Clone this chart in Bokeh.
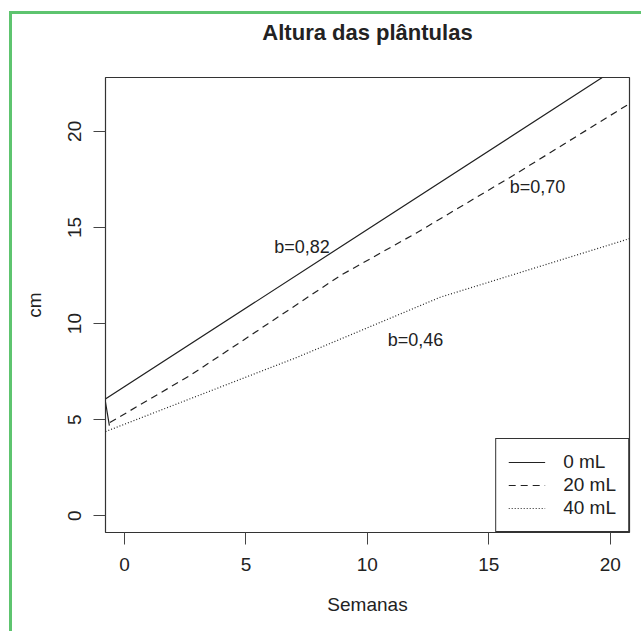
from bokeh.plotting import figure
from bokeh.models import Range1d, FixedTicker, Legend, LegendItem, Title
from bokeh.core.properties import value
from bokeh.embed import file_html
from bokeh.resources import INLINE

# ---- data ----
x_0ml = [-0.62, -0.80, 21.0]
y_0ml = [4.69, 6.06, 23.89]
x_20ml = [-0.60, 2.7, 4.77, 8.89, 12.0, 16.0, 20.8]
y_20ml = [4.85, 7.3, 9.03, 12.5, 14.7, 17.7, 21.45]
x_40ml = [-0.78, 7.1, 13.0, 20.8]
y_40ml = [4.38, 8.24, 11.37, 14.42]
series_names = ["0 mL", "20 mL", "40 mL"]
slope_labels = ["b=0,82", "b=0,70", "b=0,46"]
slope_x = [7.31, 17.0, 11.98]
slope_y = [13.97, 17.08, 9.17]
x_ticks = [0, 5, 10, 15, 20]
y_ticks = [0, 5, 10, 15, 20]
title_text = "Altura das plântulas"

FONT = "Liberation Sans"
INK = "#222222"
GREEN = "#5ec46f"

p = figure(width=641, height=631, output_backend="svg", toolbar_location=None,
           x_range=Range1d(-0.78, 20.79), y_range=Range1d(-0.87, 22.8),
           min_border_left=105, min_border_right=12, min_border_top=77,
           min_border_bottom=99, border_fill_color=None,
           background_fill_color="white")

p.styles = {
    "background": (f"linear-gradient({GREEN},{GREEN}) 9px 11px / 3px 640px no-repeat, "
                   f"linear-gradient({GREEN},{GREEN}) 9px 11px / 640px 3px no-repeat, white")
}

# real title, pushed up by a blank spacer title placed next to the frame
p.title.text = title_text
p.title.align = "center"
p.title.text_font = FONT
p.title.text_font_size = "22px"
p.title.text_font_style = "bold"
p.title.text_color = INK
p.title.standoff = 0
p.add_layout(Title(text=" ", text_font_size="1px", standoff=30), "above")

p.xgrid.visible = False
p.ygrid.visible = False
p.outline_line_color = "#333333"
p.outline_line_alpha = 1
p.outline_line_width = 1.2

for ax, ticks in ((p.xaxis[0], x_ticks), (p.yaxis[0], y_ticks)):
    ax.ticker = FixedTicker(ticks=ticks)
    ax.minor_tick_line_color = None
    ax.major_tick_in = 0
    ax.major_tick_out = 12
    ax.major_tick_line_color = "#444444"
    ax.axis_line_color = None
    ax.major_label_text_font = FONT
    ax.major_label_text_font_size = "19px"
    ax.major_label_text_color = INK
    ax.axis_label_text_font = FONT
    ax.axis_label_text_font_size = "19px"
    ax.axis_label_text_font_style = "normal"
    ax.axis_label_text_color = INK

p.xaxis.axis_label = "Semanas"
p.xaxis.major_label_standoff = 13
p.xaxis.axis_label_standoff = 20
p.yaxis.axis_label = "cm"
p.yaxis.major_label_orientation = "vertical"
p.yaxis.major_label_standoff = 12
p.yaxis.axis_label_standoff = 21

r0 = p.line(x_0ml, y_0ml, line_color=INK, line_width=1.2)
r1 = p.line(x_20ml, y_20ml, line_color=INK, line_width=1.2, line_dash="7 5")
r2 = p.line(x_40ml, y_40ml, line_color=INK, line_width=1.2, line_dash="1 2")

p.text(x=slope_x, y=slope_y, text=slope_labels, text_font=value(FONT),
       text_font_size="18px", text_color=INK, text_align="center",
       text_baseline="middle")

legend = Legend(items=[LegendItem(label=series_names[0], renderers=[r0]),
                       LegendItem(label=series_names[1], renderers=[r1]),
                       LegendItem(label=series_names[2], renderers=[r2])],
                location="bottom_right", margin=0, padding=12, spacing=1,
                glyph_width=37, glyph_height=20, label_height=20,
                label_standoff=18, border_line_color="#333333",
                border_line_width=1.2, border_line_alpha=1,
                background_fill_color="white", background_fill_alpha=1,
                label_text_font=FONT, label_text_font_size="19px",
                label_text_color=INK)
p.add_layout(legend, "center")

open("out.html", "w").write(file_html(p, INLINE))
